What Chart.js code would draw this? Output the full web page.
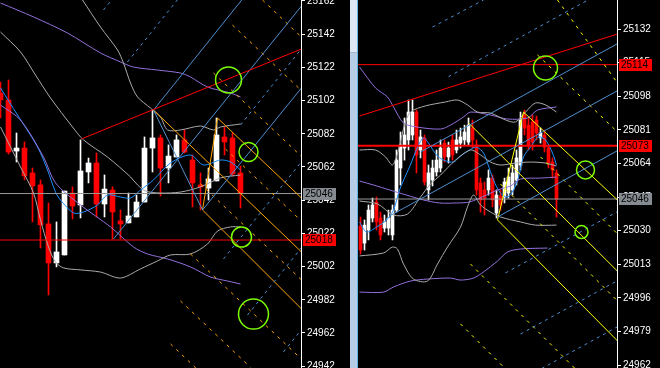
<!DOCTYPE html>
<html lang="es">
<head>
<meta charset="utf-8">
<title>Velas</title>
<script src="https://cdn.jsdelivr.net/npm/chart.js@4.4.1/dist/chart.umd.min.js"></script>
<style>
  html, body { margin: 0; padding: 0; background: #000; }
  body { width: 660px; height: 368px; position: relative; overflow: hidden; }
  canvas { position: absolute; top: 0; }
  #graficaIzq { left: 0; }
  #graficaDer { left: 358px; }
  #separador { position: absolute; left: 350px; top: 0; width: 7px; height: 368px; background: #b7cce5; border-right: 1px solid #62b4e0; }
  #pulgar { width: 7px; height: 52px; background: #dde8f4; border-bottom: 1px solid #9fb3cc; }
</style>
</head>
<body>
<canvas id="graficaIzq" width="350" height="368"></canvas>
<div id="separador"><div id="pulgar"></div></div>
<canvas id="graficaDer" width="302" height="368"></canvas>
<script>
// ---------- Panel izquierdo ----------
const aperturaIzq = [25106.5, 25102.4, 25071.6, 25073.4, 25058.4, 25051.2, 25027.7, 25004.2, 25009.0, 25046.3, 25039.1, 25059.0, 25064.4, 25039.7, 25048.1, 25029.5, 25028.3, 25031.9, 25040.9, 25073.4, 25079.5, 25061.4, 25068.0, 25078.3, 25066.2, 25051.2, 25049.3, 25053.6, 25080.1, 25079.5, 25058.4];
const maximoIzq = [25113.2, 25114.4, 25082.5, 25077.1, 25061.4, 25054.2, 25040.3, 25028.9, 25047.5, 25050.0, 25078.3, 25067.4, 25070.4, 25057.2, 25050.0, 25036.1, 25046.3, 25045.1, 25080.1, 25096.3, 25081.3, 25075.3, 25081.3, 25084.3, 25069.2, 25058.4, 25061.4, 25091.5, 25086.1, 25082.5, 25062.6];
const minimoIzq = [25091.5, 25069.8, 25065.0, 25054.2, 25028.9, 25013.2, 24984.9, 25001.8, 25009.0, 25030.7, 25031.3, 25052.4, 25031.9, 25031.9, 25018.6, 25018.6, 25028.3, 25031.9, 25040.9, 25059.0, 25044.5, 25052.4, 25068.0, 25070.4, 25037.9, 25036.1, 25042.1, 25053.6, 25069.2, 25056.6, 25037.3];
const cierreIzq = [25102.4, 25071.0, 25073.4, 25056.6, 25050.6, 25027.1, 25004.2, 25010.8, 25047.5, 25038.5, 25059.6, 25064.4, 25039.7, 25048.7, 25034.9, 25027.7, 25032.5, 25040.9, 25073.4, 25079.5, 25061.4, 25068.6, 25078.3, 25071.0, 25052.4, 25050.0, 25054.8, 25081.3, 25077.1, 25057.8, 25046.3];

// indicadores [indice, precio]
const bbSupIzq = [[7.5, 25182.5], [10.25, 25162.6], [12.5, 25146.3], [14.625, 25132.5], [15.375, 25124.6], [16.25, 25112.6], [17.125, 25104.2], [18.75, 25097.5], [20, 25092.1], [20.875, 25084.3], [22.5, 25084.3], [25, 25086.7], [26.625, 25084.3], [27.5, 25086.1], [30, 25087.9]];
const bbMediaIzq = [[0, 25143.3], [2.5, 25131.3], [4.375, 25117.4], [6.25, 25103.6], [9, 25086.1], [10.375, 25078.3], [13.375, 25068.0], [16.25, 25056.0], [17.125, 25051.2], [18.125, 25047.5], [20, 25046.3], [22.5, 25046.9], [25, 25050.0], [27.5, 25055.4], [30, 25057.2]];
const bbInfIzq = [[0, 25086.1], [2.5, 25062.0], [4.125, 25046.3], [5, 25030.1], [6, 25013.8], [6.875, 25004.8], [7.875, 25001.2], [10, 25000.0], [12.5, 24998.7], [15, 24995.1], [17.5, 25000.6], [19.625, 25005.4], [21.25, 25009.0], [23.75, 25009.6], [25.875, 25015.6], [27.125, 25023.4], [28.75, 25025.9], [30, 25025.9]];
const mediaIzq = [[0, 25109.6], [2.125, 25093.3], [4.125, 25078.3], [5, 25070.4], [5.875, 25060.2], [6.875, 25046.9], [7.5, 25042.1], [9.125, 25034.3], [10.375, 25034.9], [12.125, 25039.1], [13.375, 25045.1], [15, 25043.9], [16.25, 25043.3], [17.5, 25048.1], [19.125, 25054.2], [21.25, 25064.4], [23.75, 25069.2], [25.375, 25063.2], [27.5, 25066.2], [28.75, 25065.0], [30, 25060.2]];
const moradaSupIzq = [[0, 25160.8], [4.125, 25152.4], [8.375, 25142.7], [12.5, 25130.7], [15, 25125.3], [16.625, 25122.2], [19.625, 25120.4], [22.5, 25118.6], [23.75, 25116.2], [25.875, 25110.2], [28.75, 25106.6], [30, 25104.2]];
const moradaInfIzq = [[0, 25099.3], [2.5, 25090.3], [5.375, 25068.0], [6.875, 25052.4], [10, 25039.1], [13.75, 25025.9], [16.625, 25013.8], [18.375, 25009.6], [20.875, 25006.6], [23.75, 25001.8], [26.25, 24995.7], [28.375, 24993.3], [30, 24991.5]];

// lineas de tendencia [x1, precio1, x2, precio2]
const rojaIzq = [[10.125, 25078.9, 37.625, 25133.1]];
const azulSolidaIzq = [[19.125, 25096.3, 31.25, 25169.2], [14.125, 25018.6, 38.125, 25162.0], [25.25, 25036.1, 38.125, 25112.6], [19.125, 25096.3, 25.25, 25036.1]];
const azulPunteadaIzq = [[12.875, 25156.6, 14, 25163.2], [15.875, 25125.3, 22.25, 25163.5], [30, 25087.3, 42.5, 25162.6], [27.875, 25006.6, 41.25, 25087.0], [30.875, 24972.8, 41.25, 25035.2], [35.375, 24950.6, 41.25, 24985.8]];
const naranjaSolidaIzq = [[19.125, 25096.3, 37.625, 25010.8], [25.25, 25036.1, 37.625, 24976.5], [27.125, 25091.5, 37.625, 25043.3], [25.25, 25036.1, 27.125, 25091.5]];
const naranjaPunteadaIzq = [[32.75, 25162.6, 38.125, 25137.9], [29, 25147.5, 38.125, 25105.7], [26.625, 25118.6, 38.125, 25066.0], [28.125, 25072.8, 38.125, 25027.1], [25, 25051.8, 38.125, 24991.7], [23.75, 25009.6, 38.125, 24943.9], [22.5, 24981.3, 31.25, 24941.3], [21.25, 24955.4, 25, 24938.2]];
const circulosIzq = [[28.5, 25114.4], [31, 25071.0], [30.125, 25019.8], [31.625, 24973.4]];
const grisIzq = [25046];
const rojaHorizIzq = [25018];
const etiquetasIzq = [25046, 25018];
const marcasIzq = [25162, 25142, 25122, 25102, 25082, 25062, 25042, 25022, 25002, 24982, 24962, 24942];

// ---------- Panel derecho ----------
const aperturaDer = [25032.3, 25023.7, 25030.3, 25036.4, 25044.5, 25036.4, 25031.3, 25031.3, 25027.8, 25040.4, 25061.7, 25071.8, 25075.9, 25078.4, 25090.0, 25070.8, 25076.9, 25050.6, 25055.6, 25059.7, 25061.7, 25074.3, 25067.3, 25075.9, 25070.8, 25074.3, 25075.9, 25074.8, 25081.9, 25073.3, 25054.1, 25050.6, 25050.6, 25056.6, 25038.9, 25047.5, 25047.0, 25049.0, 25050.6, 25055.6, 25063.2, 25088.5, 25083.4, 25085.0, 25086.0, 25076.9, 25078.4, 25071.8, 25064.7, 25059.2];
const maximoDer = [25036.9, 25035.4, 25043.0, 25046.5, 25047.0, 25039.4, 25037.9, 25040.4, 25043.0, 25070.8, 25079.9, 25087.0, 25096.1, 25096.1, 25091.0, 25080.9, 25078.4, 25063.2, 25065.7, 25070.8, 25075.9, 25075.9, 25074.8, 25078.4, 25080.9, 25081.9, 25083.4, 25087.0, 25086.0, 25075.9, 25056.6, 25054.6, 25060.7, 25058.1, 25050.6, 25050.6, 25056.6, 25061.7, 25063.2, 25070.8, 25090.0, 25091.0, 25087.0, 25088.5, 25088.0, 25081.9, 25080.9, 25073.3, 25066.8, 25060.7];
const minimoDer = [25018.2, 25020.2, 25025.3, 25034.4, 25030.3, 25025.3, 25029.3, 25027.8, 25025.3, 25039.4, 25053.1, 25065.7, 25070.8, 25075.9, 25059.2, 25066.8, 25053.1, 25045.5, 25052.6, 25057.6, 25059.7, 25064.7, 25064.2, 25065.7, 25069.3, 25071.8, 25073.3, 25073.3, 25071.8, 25048.0, 25039.4, 25037.9, 25048.0, 25042.0, 25036.4, 25040.4, 25044.0, 25046.5, 25048.0, 25053.1, 25060.7, 25078.4, 25070.8, 25070.8, 25075.9, 25074.3, 25069.8, 25061.7, 25056.6, 25036.9];
const cierreDer = [25020.2, 25032.8, 25040.4, 25043.0, 25034.4, 25027.8, 25034.4, 25036.4, 25040.4, 25065.7, 25073.3, 25078.4, 25090.0, 25090.0, 25068.3, 25077.4, 25054.6, 25059.2, 25061.7, 25065.7, 25071.8, 25067.3, 25071.8, 25068.3, 25075.9, 25077.4, 25079.9, 25083.4, 25075.9, 25050.6, 25045.5, 25046.5, 25056.6, 25045.5, 25048.0, 25043.0, 25054.6, 25057.1, 25059.2, 25066.8, 25086.0, 25081.9, 25073.3, 25074.8, 25079.4, 25079.4, 25072.3, 25064.2, 25060.7, 25046.0];

const bbSupDer = [[-0.25, 25070.8], [3.75, 25070.8], [6.25, 25067.3], [8, 25063.2], [9.5, 25070.8], [11, 25083.4], [12.5, 25090.0], [16.25, 25093.1], [21.25, 25095.1], [24.25, 25096.1], [26.75, 25093.6], [29.25, 25090.0], [32.5, 25089.5], [36.25, 25086.0], [38.75, 25085.0], [41.25, 25090.0], [43.75, 25094.6], [46.25, 25093.6], [49, 25090.0]];
const bbMediaDer = [[-0.25, 25045.0], [4.25, 25043.5], [8.25, 25037.9], [11.75, 25038.4], [15, 25047.0], [17.5, 25053.6], [20, 25058.1], [23.75, 25065.7], [27.5, 25070.8], [30, 25068.3], [32.5, 25064.7], [35, 25063.2], [38.75, 25064.2], [42.5, 25064.7], [46.25, 25064.2], [49, 25062.7]];
const bbInfDer = [[-0.25, 25017.2], [5.75, 25018.7], [8, 25021.7], [9.25, 25020.7], [10.75, 25013.1], [13.25, 25005.5], [16.75, 25004.5], [19.25, 25013.1], [21.75, 25021.7], [25, 25031.8], [26.75, 25042.0], [28.25, 25048.0], [30, 25043.0], [32.5, 25039.4], [35, 25036.9], [40, 25034.4], [43.75, 25032.8], [49, 25032.8]];
const mediaDer = [[-0.25, 25034.4], [1.5, 25029.3], [4, 25031.8], [6.5, 25035.4], [8.25, 25040.4], [9.75, 25050.6], [12.25, 25062.2], [14.5, 25073.3], [15.75, 25076.9], [17, 25074.3], [19, 25068.3], [20.75, 25065.7], [23.25, 25064.7], [24.75, 25067.3], [27.25, 25070.8], [29, 25072.3], [30.75, 25069.3], [31.75, 25064.2], [33.25, 25055.6], [35, 25049.0], [36.75, 25047.0], [38.25, 25050.6], [39.5, 25057.1], [40.75, 25067.3], [42.5, 25072.3], [44.5, 25077.4], [46.25, 25075.9], [48, 25069.3], [49, 25063.2]];
const moradaSupDer = [[-0.25, 25112.8], [3.75, 25102.2], [6.75, 25097.6], [8.25, 25092.6], [10.75, 25084.5], [14.25, 25082.4], [20, 25081.4], [22.5, 25083.4], [25.75, 25087.5], [27.5, 25090.0], [32.5, 25088.5], [36.75, 25086.5], [41.75, 25087.0], [44.25, 25091.0], [49, 25092.6]];
const moradaMedDer = [[-0.25, 25055.1], [3.25, 25053.1], [7.25, 25050.6], [11.5, 25048.0], [15.75, 25045.5], [19.75, 25044.0], [24, 25044.0], [27.25, 25044.5], [31.5, 25048.0], [34.25, 25050.6], [37.5, 25052.6], [40, 25056.1], [45, 25056.6], [49, 25057.1]];
const moradaInfDer = [[-0.25, 24998.9], [5.75, 24998.9], [8.25, 25001.5], [12.5, 25004.5], [16.75, 25005.5], [22.5, 25006.0], [25, 25005.0], [28.25, 25006.0], [30.75, 25009.1], [34.25, 25014.6], [36.75, 25019.2], [40, 25020.7], [46.75, 25021.2]];

const rojaDer = [[-0.25, 25088.0, 64.25, 25129.5]];
const amarillaSolidaDer = [[34.25, 25035.4, 40.75, 25090.0], [40.75, 25090.0, 70, 25034.6], [34.25, 25035.4, 70, 24962.5], [27, 25084.5, 70, 24997.9]];
const amarillaPunteadaDer = [[49.25, 25146.7, 64.25, 25104.7], [44.25, 25118.9, 64.25, 25079.9], [45, 25067.3, 70, 25016.7], [35, 25053.6, 70, 24982.8], [27.5, 25013.1, 70, 24927.1], [25, 24982.8, 70, 24891.7]];
const azulSolidaDer = [[15, 25069.8, 70, 25131.0], [7.5, 25037.7, 70, 25107.2], [34.25, 25036.9, 70, 25076.9]];
const azulPunteadaDer = [[18, 25133.0, 30.75, 25146.7], [22, 25107.9, 60, 25150.2], [36.25, 25008.6, 70, 25046.0], [40, 24977.7, 70, 25011.1], [43.75, 24958.5, 70, 24987.8]];
const circulosDer = [[46.25, 25112.3], [56.25, 25060.7], [55.25, 25029.3]];
const grisDer = [25046];
const rojaHorizDer = [25114, 25073];
const etiquetasDer = [25114, 25073, 25046];
const marcasDer = [25132, 25115, 25098, 25081, 25064, 25047, 25030, 25013, 24996, 24979, 24962];

// ---------- utilidades ----------
const linea = (puntos, color) => ({
    type: 'line',
    data: puntos.map(p => ({ x: p[0], y: p[1] })),
    borderColor: color,
    borderWidth: 1,
    pointRadius: 0,
    tension: 0.3,
    order: 3
});

const segmentos = (lista, color, guion, ancho) => lista.map(s => ({
    type: 'line',
    data: [{ x: s[0], y: s[1] }, { x: s[2], y: s[3] }],
    borderColor: color,
    borderWidth: ancho || 1,
    borderDash: guion || [],
    pointRadius: 0,
    order: 1
}));

const velas = (ap, max, min, cie, grosor) => {
    const colores = ap.map((a, i) => cie[i] >= a ? '#ffffff' : '#ff0000');
    return [
        { type: 'bar', data: ap.map((a, i) => ({ x: i, y: [min[i], max[i]] })), backgroundColor: colores, barThickness: 1, grouped: false, order: 10 },
        { type: 'bar', data: ap.map((a, i) => ({ x: i, y: [a, cie[i]] })), backgroundColor: colores, barThickness: grosor, grouped: false, minBarLength: 1, order: 9 }
    ];
};

// cajas de precio sobre el eje
const cajasPrecio = {
    id: 'cajasPrecio',
    afterDraw(chart, args, opts) {
        const ctx = chart.ctx;
        const eje = chart.scales.y;
        opts.valores.forEach((v, i) => {
            const py = Math.round(eje.getPixelForValue(v));
            ctx.fillStyle = opts.fondos[i];
            ctx.fillRect(eje.left + 2, py - 6, 33, 12);
            ctx.fillStyle = '#000000';
            ctx.font = '10px "Liberation Sans"';
            ctx.textBaseline = 'middle';
            ctx.fillText(String(v), eje.left + 4, py + 0.5);
        });
    }
};

function dibujarPanel(id, p) {
    const ctx = document.getElementById(id).getContext('2d');
    const horiz = [];
    p.grises.forEach(v => horiz.push(...segmentos([[p.xMin - 1, v, p.xMax + 1, v]], '#9a9a9a')));
    p.rojasHoriz.forEach((v, i) => horiz.push(...segmentos([[p.xMin - 1, v, p.xMax + 1, v]], '#ff0000', [], p.anchosRojas[i])));

    const datasets = [
        {
            type: 'line', showLine: false,
            data: p.circulos.map(c => ({ x: c[0], y: c[1] })),
            pointRadius: p.radios, pointBorderColor: '#7cfc00', pointBackgroundColor: 'rgba(0,0,0,0)',
            pointBorderWidth: 1.5, order: 0
        },
        ...segmentos(p.roja, '#ff0000'),
        ...segmentos(p.azulSolida, '#4f8fd0'),
        ...segmentos(p.azulPunteada, '#4f8fd0', [3, 4]),
        ...segmentos(p.canalSolido, p.colorCanal),
        ...segmentos(p.canalPunteado, p.colorCanal, [3, 5]),
        ...horiz,
        ...p.grisesBB.map(b => linea(b, '#ababab')),
        ...p.moradas.map(m => linea(m, '#9370db')),
        linea(p.media, '#1e90ff'),
        ...velas(p.velas[0], p.velas[1], p.velas[2], p.velas[3], p.cuerpo)
    ];

    new Chart(ctx, {
        type: 'bar',
        data: { datasets },
        plugins: [cajasPrecio],
        options: {
            responsive: false,
            animation: false,
            devicePixelRatio: 1,
            events: [],
            layout: { padding: 0, autoPadding: false },
            plugins: {
                legend: { display: false },
                tooltip: { enabled: false },
                cajasPrecio: { valores: p.etiquetas, fondos: p.fondos }
            },
            scales: {
                x: { type: 'linear', min: p.xMin, max: p.xMax, offset: false, display: false },
                y: {
                    position: 'right',
                    min: p.yMin,
                    max: p.yMax,
                    afterBuildTicks: s => { s.ticks = p.marcas.map(v => ({ value: v })); },
                    afterFit: s => { s.width = p.anchoEje; s.paddingTop = 0; s.paddingBottom = 0; },
                    grid: { drawOnChartArea: false, color: '#ffffff', tickLength: 4 },
                    border: { color: '#ffffff', width: 1 },
                    ticks: {
                        color: '#ffffff', padding: 2, autoSkip: false,
                        font: { family: 'Liberation Sans', size: 10 },
                        callback: v => String(v)
                    }
                }
            }
        }
    });
}

dibujarPanel('graficaIzq', {
    velas: [aperturaIzq, maximoIzq, minimoIzq, cierreIzq], cuerpo: 5,
    xMin: -0.0625, xMax: 37.5625, yMin: 24940.9, yMax: 25162.6,
    marcas: marcasIzq, anchoEje: 49,
    grisesBB: [bbSupIzq, bbMediaIzq, bbInfIzq], moradas: [moradaSupIzq, moradaInfIzq], media: mediaIzq,
    roja: rojaIzq, azulSolida: azulSolidaIzq, azulPunteada: azulPunteadaIzq,
    colorCanal: '#ffa500', canalSolido: naranjaSolidaIzq, canalPunteado: naranjaPunteadaIzq,
    circulos: circulosIzq, radios: [13, 9.5, 10, 15],
    grises: grisIzq, rojasHoriz: rojaHorizIzq, anchosRojas: [1],
    etiquetas: etiquetasIzq, fondos: ['#858b91', '#ff0000']
});

dibujarPanel('graficaDer', {
    velas: [aperturaDer, maximoDer, minimoDer, cierreDer], cuerpo: 3,
    xMin: -0.625, xMax: 64.125, yMin: 24960.5, yMax: 25146.7,
    marcas: marcasDer, anchoEje: 43,
    grisesBB: [bbSupDer, bbMediaDer, bbInfDer], moradas: [moradaSupDer, moradaMedDer, moradaInfDer], media: mediaDer,
    roja: rojaDer, azulSolida: azulSolidaDer, azulPunteada: azulPunteadaDer,
    colorCanal: '#ffff00', canalSolido: amarillaSolidaDer, canalPunteado: amarillaPunteadaDer,
    circulos: circulosDer, radios: [12, 9, 6.5],
    grises: grisDer, rojasHoriz: rojaHorizDer, anchosRojas: [1, 2],
    etiquetas: etiquetasDer, fondos: ['#ff0000', '#ff0000', '#858b91']
});
</script>
</body>
</html>
